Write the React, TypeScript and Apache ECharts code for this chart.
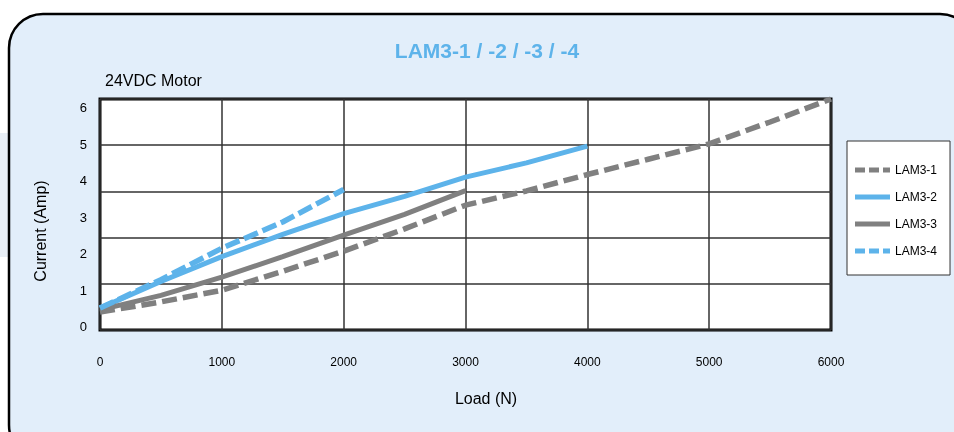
import React, { useEffect, useRef } from "react";
import * as echarts from "echarts";

const loads = [0, 500, 1000, 1500, 2000, 2500, 3000, 3500, 4000, 4500, 5000, 5500, 6000];
const lam31 = [0.4, 0.68, 1.0, 1.52, 2.07, 2.68, 3.33, 3.72, 4.17, 4.59, 5.01, 5.61, 6.24];
const lam32 = [0.51, 1.24, 1.92, 2.53, 3.1, 3.57, 4.1, 4.49, 4.95];
const lam33 = [0.46, 0.86, 1.36, 1.92, 2.51, 3.08, 3.73];
const lam34 = [0.51, 1.29, 2.15, 2.87, 3.76];
const yTickLabels = [0, 1, 2, 3, 4, 5, 6];
const seriesNames = ["LAM3-1", "LAM3-2", "LAM3-3", "LAM3-4"];

const GRAY = "#808080";
const BLUE = "#5DB3EA";
const FONT = "Liberation Sans, Arial, sans-serif";

const DASH_ICON = "path://M0,0h10v5h-10z M14,0h10v5h-10z M28,0h7v5h-7z";
const SOLID_ICON = "path://M0,0h35v5h-35z";

function pairs(vals: number[]) {
  return vals.map((v, i) => [loads[i], v]);
}

export default function App() {
  const ref = useRef<HTMLDivElement>(null);
  useEffect(() => {
    if (!ref.current) return;
    const chart = echarts.init(ref.current, undefined, { renderer: "svg" });
    chart.setOption({
      animation: false,
      textStyle: { fontFamily: FONT },
      graphic: [
        {
          type: "rect",
          z: -100,
          shape: { x: 0, y: 133, width: 10, height: 124 },
          style: { fill: "#E8EEF5" },
        },
        {
          type: "rect",
          z: -99,
          shape: { x: 9, y: 14, width: 965, height: 445, r: 34 },
          style: { fill: "#E2EEFA", stroke: "#000", lineWidth: 2.5 },
        },
        {
          type: "text",
          x: 487,
          y: 50,
          style: {
            text: "LAM3-1 / -2 / -3 / -4",
            fill: BLUE,
            font: "bold 21px " + FONT,
            align: "center",
            verticalAlign: "middle",
          },
        },
        {
          type: "text",
          x: 105,
          y: 80,
          style: {
            text: "24VDC Motor",
            fill: "#000",
            font: "16px " + FONT,
            align: "left",
            verticalAlign: "middle",
          },
        },
        {
          type: "text",
          x: 40,
          y: 231,
          rotation: Math.PI / 2,
          style: {
            text: "Current (Amp)",
            fill: "#000",
            font: "16px " + FONT,
            align: "center",
            verticalAlign: "middle",
          },
        },
        {
          type: "text",
          x: 486,
          y: 398,
          style: {
            text: "Load (N)",
            fill: "#000",
            font: "16px " + FONT,
            align: "center",
            verticalAlign: "middle",
          },
        },
      ],
      grid: {
        left: 100,
        top: 99,
        width: 731,
        height: 231,
        show: true,
        backgroundColor: "#fff",
        borderColor: "#000",
        borderWidth: 3,
      },
      legend: {
        orient: "vertical",
        left: 847,
        top: 141,
        data: [
          { name: seriesNames[0], icon: DASH_ICON, itemStyle: { color: GRAY } },
          { name: seriesNames[1], icon: SOLID_ICON, itemStyle: { color: BLUE } },
          { name: seriesNames[2], icon: SOLID_ICON, itemStyle: { color: GRAY } },
          { name: seriesNames[3], icon: DASH_ICON, itemStyle: { color: BLUE } },
        ],
        backgroundColor: "#fff",
        borderColor: "#333",
        borderWidth: 1,
        padding: [23, 13, 18, 8],
        itemWidth: 35,
        itemHeight: 14,
        itemGap: 15,
        textStyle: { fontSize: 12, color: "#000", fontFamily: FONT },
      },
      xAxis: {
        type: "value",
        min: 0,
        max: 6000,
        interval: 1000,
        axisLine: { show: false },
        axisTick: { show: false },
        splitLine: { show: true, lineStyle: { color: "#333", width: 1.5 } },
        axisLabel: {
          color: "#000",
          fontSize: 12,
          margin: 26,
          fontFamily: FONT,
          formatter: (v: number) => String(v),
        },
      },
      yAxis: [
        {
          type: "value",
          min: 0,
          max: 5,
          interval: 1,
          axisLine: { show: false },
          axisTick: { show: false },
          axisLabel: { show: false },
          splitLine: { show: true, lineStyle: { color: "#333", width: 1.5 } },
        },
        {
          type: "value",
          position: "left",
          min: -0.09,
          max: 6.24,
          axisLine: { show: false },
          axisTick: { show: false },
          splitLine: { show: false },
          axisLabel: {
            customValues: yTickLabels,
            color: "#000",
            fontSize: 13,
            margin: 13,
            fontFamily: FONT,
          },
        },
      ],
      series: [
        {
          name: "LAM3-1",
          type: "line",
          yAxisIndex: 1,
          data: pairs(lam31),
          symbol: "none",
          color: GRAY,
          lineStyle: { color: GRAY, width: 5.5, type: [15, 6] },
        },
        {
          name: "LAM3-2",
          type: "line",
          yAxisIndex: 1,
          data: pairs(lam32),
          symbol: "none",
          color: BLUE,
          lineStyle: { color: BLUE, width: 5 },
        },
        {
          name: "LAM3-3",
          type: "line",
          yAxisIndex: 1,
          data: pairs(lam33),
          symbol: "none",
          color: GRAY,
          lineStyle: { color: GRAY, width: 5 },
        },
        {
          name: "LAM3-4",
          type: "line",
          yAxisIndex: 1,
          data: pairs(lam34),
          symbol: "none",
          color: BLUE,
          lineStyle: { color: BLUE, width: 5.5, type: [15, 5] },
        },
      ],
    });
    return () => chart.dispose();
  }, []);
  return (
    <div
      ref={ref}
      style={{ position: "fixed", left: 0, top: 0, width: 954, height: 432 }}
    />
  );
}
